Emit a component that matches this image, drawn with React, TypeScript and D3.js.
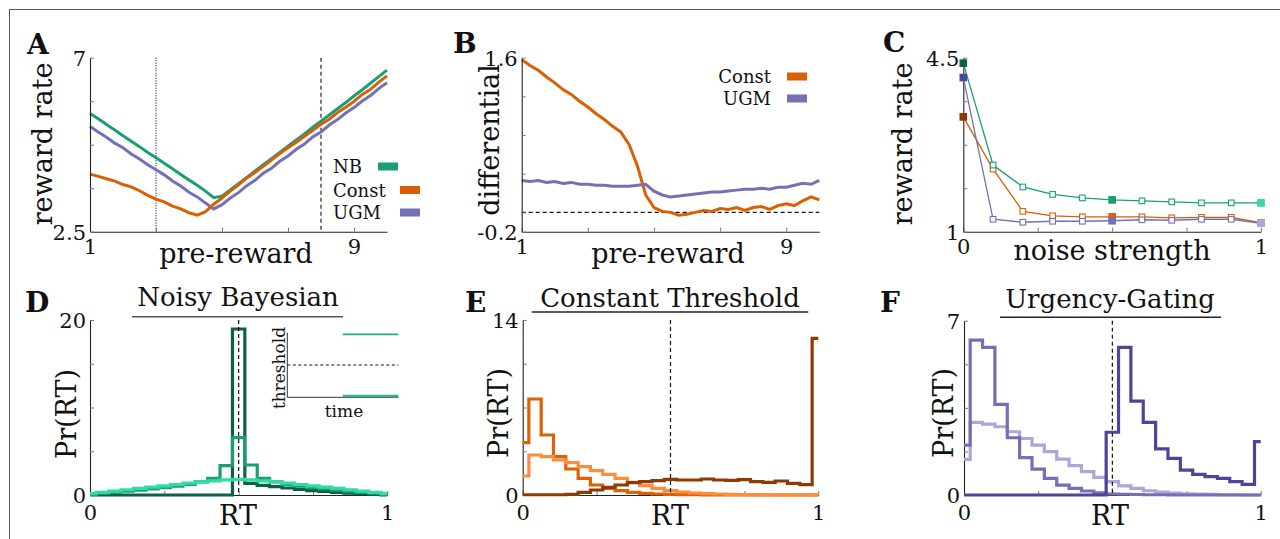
import React, { useEffect, useRef } from 'react';
import * as d3 from 'd3';

const W = 1280;
const H = 539;
const FONT = '"DejaVu Serif", serif';

// shades: [noise 0, noise 0.5, noise 1]
const GREENS = ['#0d5f46', '#1b9e77', '#2fdca6'];
const ORANGES = ['#8e3b03', '#de6106', '#fd8d3c'];
const PURPLES = ['#4c4794', '#7570b3', '#aba7d8'];
const NB_COL = '#1b9e77';
const CONST_COL = '#d95f02';
const UGM_COL = '#7570b3';

// A, B: x = pre-reward
const preReward = [1, 1.25, 1.5, 1.75, 2, 2.25, 2.5, 2.75, 3, 3.25, 3.5, 3.75, 4, 4.25, 4.5, 4.75, 5, 5.25, 5.5,
  5.75, 6, 6.25, 6.5, 6.75, 7, 7.25, 7.5, 7.75, 8, 8.25, 8.5, 8.75, 9, 9.25, 9.5, 9.75, 10];
const rrNB = [5.56, 5.42, 5.27, 5.13, 4.98, 4.84, 4.7, 4.55, 4.41, 4.27, 4.13, 3.98, 3.84, 3.7, 3.55, 3.38, 3.42,
  3.58, 3.74, 3.9, 4.07, 4.23, 4.39, 4.55, 4.71, 4.87, 5.03, 5.2, 5.36, 5.52, 5.68, 5.84, 6.01, 6.17, 6.34, 6.51, 6.68];
const rrConst = [3.99, 3.93, 3.87, 3.81, 3.72, 3.66, 3.56, 3.44, 3.34, 3.27, 3.16, 3.09, 2.99, 2.93, 3.02, 3.21, 3.37,
  3.55, 3.71, 3.89, 4.03, 4.19, 4.35, 4.52, 4.67, 4.81, 4.97, 5.12, 5.28, 5.41, 5.58, 5.72, 5.87, 6.05, 6.18, 6.37, 6.53];
const rrUGM = [5.22, 5.08, 4.94, 4.79, 4.67, 4.51, 4.38, 4.23, 4.1, 3.97, 3.81, 3.68, 3.52, 3.4, 3.24, 3.09, 3.2,
  3.37, 3.51, 3.69, 3.83, 4.01, 4.14, 4.32, 4.46, 4.63, 4.77, 4.95, 5.08, 5.26, 5.4, 5.57, 5.71, 5.88, 6.02, 6.2, 6.35];
const diffConst = [1.58, 1.52, 1.47, 1.4, 1.34, 1.27, 1.22, 1.15, 1.09, 1.02, 0.96, 0.89, 0.83, 0.7, 0.48, 0.18, 0.05,
  0.01, 0, -0.03, -0.02, 0, 0.02, 0.01, 0.04, 0.03, 0.05, 0.02, 0.05, 0.06, 0.03, 0.07, 0.09, 0.07, 0.12, 0.16, 0.13];
const diffUGM = [0.33, 0.32, 0.33, 0.31, 0.32, 0.3, 0.31, 0.29, 0.29, 0.28, 0.28, 0.27, 0.27, 0.27, 0.28, 0.29, 0.22,
  0.18, 0.16, 0.17, 0.18, 0.19, 0.2, 0.21, 0.21, 0.22, 0.23, 0.24, 0.24, 0.25, 0.24, 0.26, 0.26, 0.28, 0.3, 0.29, 0.33];
const preTicks = [1, 3, 5, 7, 9];
const preTickLabels = ['1', '', '', '', '9'];
const aYTicks = [2.5, 3.625, 4.75, 5.875, 7];
const aYLabels = ['2.5', '', '', '', '7'];
const bYTicks = [-0.2, 0, 0.4, 0.8, 1.2, 1.6];
const bYLabels = ['-0.2', '', '', '', '', '1.6'];

// C: reward rate vs noise
const noiseLevels = [0, 0.1, 0.2, 0.3, 0.4, 0.5, 0.6, 0.7, 0.8, 0.9, 1];
const noiseNB = [4.39, 2.34, 1.9, 1.75, 1.68, 1.64, 1.62, 1.6, 1.58, 1.58, 1.58];
const noiseConst = [3.31, 2.26, 1.41, 1.32, 1.3, 1.3, 1.3, 1.28, 1.29, 1.29, 1.18];
const noiseUGM = [4.1, 1.25, 1.19, 1.21, 1.21, 1.22, 1.24, 1.23, 1.25, 1.25, 1.17];
const filledAt = [0, 5, 10];
const cYTicks = [1, 1.875, 2.75, 3.625, 4.5];
const cYLabels = ['1', '', '', '', '4.5'];
const unitTicks = [0, 0.25, 0.5, 0.75, 1];
const unitTickLabels = ['0', '', '', '', '1'];

// D-F: RT histograms, 25 bins centred on k/24
const rtBins = d3.range(25).map((k) => k / 24);
const nbHist = [
  [0, 0, 0, 0, 0, 0, 0, 0, 0, 0, 0, 0, 18.97, 1.33, 1.1, 0.95, 0.8, 0.65, 0.5, 0.4, 0.3, 0.2, 0.12, 0.06, 0.02],
  [0.1, 0.2, 0.3, 0.45, 0.55, 0.7, 0.85, 1.0, 1.2, 1.5, 1.9, 3.35, 6.55, 3.43, 1.9, 1.5, 1.2, 1.0, 0.85, 0.7, 0.55,
    0.4, 0.3, 0.2, 0.1],
  [0.15, 0.3, 0.45, 0.6, 0.75, 0.9, 1.05, 1.2, 1.35, 1.5, 1.62, 1.72, 1.78, 1.72, 1.62, 1.5, 1.35, 1.2, 1.05, 0.9,
    0.75, 0.6, 0.45, 0.3, 0.15]
];
const constHist = [
  [0.02, 0.02, 0.02, 0.02, 0.05, 0.21, 0.4, 0.61, 0.8, 0.99, 1.07, 1.15, 1.25, 1.2, 1.2, 1.28, 1.2, 1.17, 1.23, 1.07,
    1.01, 1.12, 0.93, 0.83, 12.53],
  [4.19, 7.68, 4.8, 3.07, 2.08, 1.33, 0.8, 0.53, 0.35, 0.21, 0.13, 0.08, 0.05, 0.03, 0.02, 0.01, 0.01, 0, 0, 0, 0, 0,
    0, 0, 0],
  [1.52, 3.2, 3.07, 2.8, 2.59, 2.27, 1.95, 1.65, 1.33, 1.01, 0.75, 0.53, 0.35, 0.24, 0.16, 0.11, 0.08, 0.05, 0.04,
    0.03, 0.02, 0.01, 0.01, 0.01, 0]
];
const ugmHist = [
  [0, 0, 0, 0, 0, 0, 0, 0, 0, 0, 0, 0, 2.52, 5.93, 3.77, 2.92, 1.85, 1.47, 1.0, 0.83, 0.74, 0.67, 0.54, 0.43, 2.14],
  [2.0, 6.22, 5.93, 3.64, 2.3, 1.5, 1.04, 0.67, 0.4, 0.27, 0.16, 0.09, 0.04, 0.03, 0.02, 0.01, 0.01, 0, 0, 0, 0, 0,
    0, 0, 0],
  [1.43, 2.92, 2.85, 2.74, 2.54, 2.27, 2.0, 1.74, 1.44, 1.18, 0.94, 0.71, 0.54, 0.37, 0.27, 0.17, 0.12, 0.08, 0.05,
    0.04, 0.03, 0.01, 0.01, 0, 0]
];
const dYTicks = [0, 5, 10, 15, 20];
const eYTicks = [0, 3.5, 7, 10.5, 14];
const fYTicks = [0, 1.75, 3.5, 5.25, 7];

// inset in D: threshold vs time
const insetTime = [0.5, 1];
const insetUpper = [0.975, 0.975];
const insetLower = [0.02, 0.02];

type Sel = d3.Selection<SVGGElement, unknown, null, undefined>;

function axes(g: Sel, x: any, y: any, xt: number[], xl: string[], yt: number[], yl: string[], xBase: number) {
  const bottom = y.range()[0];
  const left = x.range()[0];
  const gx = g.append('g').attr('transform', `translate(0,${bottom})`)
    .call(d3.axisBottom(x).tickValues(xt).tickSize(-4).tickSizeOuter(0).tickFormat((d: any, i: number) => xl[i]));
  const gy = g.append('g').attr('transform', `translate(${left},0)`)
    .call(d3.axisLeft(y).tickValues(yt).tickSize(-4).tickSizeOuter(0).tickPadding(4)
      .tickFormat((d: any, i: number) => yl[i]));
  [gx, gy].forEach((a) => {
    a.attr('font-family', FONT).attr('font-size', 21);
    a.select('.domain').attr('stroke', '#222').attr('stroke-width', 1.1);
    a.selectAll('.tick line').attr('stroke', '#777');
    a.selectAll('text').attr('fill', '#111');
  });
  gx.selectAll('text').attr('y', xBase).attr('dy', 0);
  gy.selectAll('text').attr('dy', '0.35em');
}

function text(g: Sel, x: number, y: number, s: string, size: number, anchor = 'middle', weight = 'normal') {
  return g.append('text').attr('x', x).attr('y', y).attr('font-family', FONT).attr('font-size', size)
    .attr('font-weight', weight).attr('text-anchor', anchor).attr('fill', '#111').text(s);
}

function vlabel(g: Sel, x: number, y: number, s: string, size = 27) {
  g.append('text').attr('transform', `translate(${x},${y}) rotate(-90)`).attr('font-family', FONT)
    .attr('font-size', size).attr('text-anchor', 'middle').attr('fill', '#111').text(s);
}

function histPanel(g: Sel, x: any, y: any, hists: number[][], cols: string[], order: number[]) {
  const line = d3.line<number>().x((d, i) => x(rtBins[i])).y((d) => y(d)).curve(d3.curveStep);
  order.forEach((k) => {
    g.append('path').attr('d', line(hists[k])).attr('fill', 'none').attr('stroke', cols[k])
      .attr('stroke-width', 3.2).attr('stroke-linejoin', 'miter');
  });
  g.append('line').attr('x1', x(0.5)).attr('x2', x(0.5)).attr('y1', y.range()[1]).attr('y2', y.range()[0])
    .attr('stroke', '#111').attr('stroke-width', 1.2).attr('stroke-dasharray', '4,3');
}

export default function App() {
  const ref = useRef<SVGSVGElement>(null);

  useEffect(() => {
    const svg = d3.select(ref.current);
    svg.selectAll('*').remove();
    const g = svg.append('g') as unknown as Sel;
    g.append('rect').attr('width', W).attr('height', H).attr('fill', '#fff');
    g.append('rect').attr('x', 9.5).attr('y', 9.5).attr('width', 1300).attr('height', 600)
      .attr('fill', 'none').attr('stroke', '#555');

    // ---- A
    const xa = d3.scaleLinear().domain([1, 10]).range([90, 387]);
    const ya = d3.scaleLinear().domain([2.5, 7]).range([231.7, 57.7]);
    [3, 8].forEach((v, i) => {
      g.append('line').attr('x1', xa(v)).attr('x2', xa(v)).attr('y1', ya(7)).attr('y2', ya(2.5))
        .attr('stroke', '#111').attr('stroke-width', 1.1).attr('stroke-dasharray', i === 0 ? '1,1.5' : '4,3');
    });
    const lineA = d3.line<number>().x((d, i) => xa(preReward[i])).y((d) => ya(d));
    [[rrNB, NB_COL], [rrUGM, UGM_COL], [rrConst, CONST_COL]].forEach(([d, c]: any) => {
      g.append('path').attr('d', lineA(d)).attr('fill', 'none').attr('stroke', c).attr('stroke-width', 3);
    });
    axes(g, xa, ya, preTicks, preTickLabels, aYTicks, aYLabels, 22);
    text(g, 236, 263, 'pre-reward', 27);
    vlabel(g, 52, 144, 'reward rate');
    text(g, 27, 54, 'A', 28, 'start', 'bold');
    [['NB', NB_COL, 378, 173], ['Const', CONST_COL, 400, 196.5], ['UGM', UGM_COL, 400, 219]].forEach(([s, c, sx, by]: any) => {
      text(g, 333, by, s, 18, 'start');
      g.append('rect').attr('x', sx).attr('y', by - 10.5).attr('width', 20).attr('height', 8).attr('fill', c);
    });

    // ---- B
    const xb = d3.scaleLinear().domain([1, 10]).range([521.7, 819.3]);
    const yb = d3.scaleLinear().domain([-0.2, 1.6]).range([231.7, 57.7]);
    g.append('line').attr('x1', xb(1)).attr('x2', xb(10)).attr('y1', yb(0)).attr('y2', yb(0))
      .attr('stroke', '#111').attr('stroke-width', 1.1).attr('stroke-dasharray', '4,3');
    const lineB = d3.line<number>().x((d, i) => xb(preReward[i])).y((d) => yb(d));
    [[diffConst, CONST_COL], [diffUGM, UGM_COL]].forEach(([d, c]: any) => {
      g.append('path').attr('d', lineB(d)).attr('fill', 'none').attr('stroke', c).attr('stroke-width', 3);
    });
    axes(g, xb, yb, preTicks, preTickLabels, bYTicks, bYLabels, 22);
    text(g, 668, 263, 'pre-reward', 27);
    vlabel(g, 499, 140, 'differential');
    text(g, 453, 53, 'B', 28, 'start', 'bold');
    [['Const', CONST_COL, 83], ['UGM', UGM_COL, 105]].forEach(([s, c, by]: any) => {
      text(g, 771, by, s, 18, 'end');
      g.append('rect').attr('x', 787).attr('y', by - 10.5).attr('width', 20).attr('height', 8).attr('fill', c);
    });

    // ---- C
    const xc = d3.scaleLinear().domain([0, 1]).range([963.3, 1261]);
    const yc = d3.scaleLinear().domain([1, 4.5]).range([231.7, 57.7]);
    axes(g, xc, yc, unitTicks, unitTickLabels, cYTicks, cYLabels, 22);
    const lineC = d3.line<number>().x((d, i) => xc(noiseLevels[i])).y((d) => yc(d));
    const cSeries: [number[], string, string[]][] = [
      [noiseConst, CONST_COL, ORANGES], [noiseUGM, UGM_COL, PURPLES], [noiseNB, NB_COL, GREENS]
    ];
    cSeries.forEach(([d, c]) => {
      g.append('path').attr('d', lineC(d)).attr('fill', 'none').attr('stroke', c).attr('stroke-width', 1.3);
      g.selectAll(null).data(d).enter().append('rect')
        .attr('x', (v, i) => xc(noiseLevels[i]) - 2.8).attr('y', (v) => yc(v) - 2.8)
        .attr('width', 5.6).attr('height', 5.6).attr('fill', '#fff').attr('stroke', c).attr('stroke-width', 1.1);
    });
    cSeries.forEach(([d, , shades]) => {
      filledAt.forEach((idx, j) => {
        g.append('rect').attr('x', xc(noiseLevels[idx]) - 3.8).attr('y', yc(d[idx]) - 3.8)
          .attr('width', 7.6).attr('height', 7.6).attr('fill', shades[j]);
      });
    });
    text(g, 1112, 260, 'noise strength', 27);
    vlabel(g, 912, 144, 'reward rate');
    text(g, 883, 52, 'C', 28, 'start', 'bold');

    // ---- D
    const xd = d3.scaleLinear().domain([0, 1]).range([90, 387.3]);
    const yd = d3.scaleLinear().domain([0, 20]).range([495, 320]);
    axes(g, xd, yd, unitTicks, unitTickLabels, dYTicks, ['0', '', '', '', '20'], 25);
    histPanel(g, xd, yd, nbHist, GREENS, [0, 1, 2]);
    text(g, 238, 306, 'Noisy Bayesian', 26);
    g.append('line').attr('x1', 132).attr('x2', 343).attr('y1', 316.7).attr('y2', 316.7)
      .attr('stroke', '#555').attr('stroke-width', 1.5);
    text(g, 238, 525, 'RT', 27);
    vlabel(g, 76, 414, 'Pr(RT)');
    text(g, 25, 312, 'D', 28, 'start', 'bold');
    // inset
    const xi = d3.scaleLinear().domain([0, 1]).range([287.3, 398.3]);
    const yi = d3.scaleLinear().domain([0, 1]).range([397.3, 332.7]);
    g.append('path').attr('d', `M${xi(0)},${yi(1)}V${yi(0)}H${xi(1)}`).attr('fill', 'none')
      .attr('stroke', '#333').attr('stroke-width', 1);
    g.append('line').attr('x1', xi(0)).attr('x2', xi(1)).attr('y1', yi(0.5)).attr('y2', yi(0.5))
      .attr('stroke', '#111').attr('stroke-width', 1).attr('stroke-dasharray', '3,2.5');
    const lineI = d3.line<number>().x((d, i) => xi(insetTime[i])).y((d) => yi(d));
    g.append('path').attr('d', lineI(insetUpper)).attr('stroke', '#1fae84').attr('stroke-width', 1.8).attr('fill', 'none');
    g.append('path').attr('d', lineI(insetLower)).attr('stroke', '#33b48e').attr('stroke-width', 2.4).attr('fill', 'none');
    vlabel(g, 285, 368, 'threshold', 17);
    text(g, 344, 416.5, 'time', 17);

    // ---- E
    const xe = d3.scaleLinear().domain([0, 1]).range([522.7, 818.3]);
    const ye = d3.scaleLinear().domain([0, 14]).range([495, 320]);
    axes(g, xe, ye, unitTicks, unitTickLabels, eYTicks, ['0', '', '', '', '14'], 25);
    histPanel(g, xe, ye, constHist, ORANGES, [1, 2, 0]);
    text(g, 670, 306.5, 'Constant Threshold', 26);
    g.append('line').attr('x1', 531.7).attr('x2', 808.3).attr('y1', 312).attr('y2', 312)
      .attr('stroke', '#222').attr('stroke-width', 1.5);
    text(g, 670, 525, 'RT', 27);
    vlabel(g, 508, 413, 'Pr(RT)');
    text(g, 465, 312, 'E', 28, 'start', 'bold');

    // ---- F
    const xf = d3.scaleLinear().domain([0, 1]).range([964, 1260.7]);
    const yf = d3.scaleLinear().domain([0, 7]).range([495, 320.7]);
    axes(g, xf, yf, unitTicks, unitTickLabels, fYTicks, ['0', '', '', '', '7'], 25);
    histPanel(g, xf, yf, ugmHist, PURPLES, [2, 1, 0]);
    text(g, 1110, 307.5, 'Urgency-Gating', 26);
    g.append('line').attr('x1', 1000).attr('x2', 1221).attr('y1', 317.3).attr('y2', 317.3)
      .attr('stroke', '#222').attr('stroke-width', 1.5);
    text(g, 1110, 525, 'RT', 27);
    vlabel(g, 953, 413, 'Pr(RT)');
    text(g, 880, 312, 'F', 28, 'start', 'bold');
  }, []);

  return <svg ref={ref} width={W} height={H} style={{ position: 'absolute', left: 0, top: 0 }} />;
}
